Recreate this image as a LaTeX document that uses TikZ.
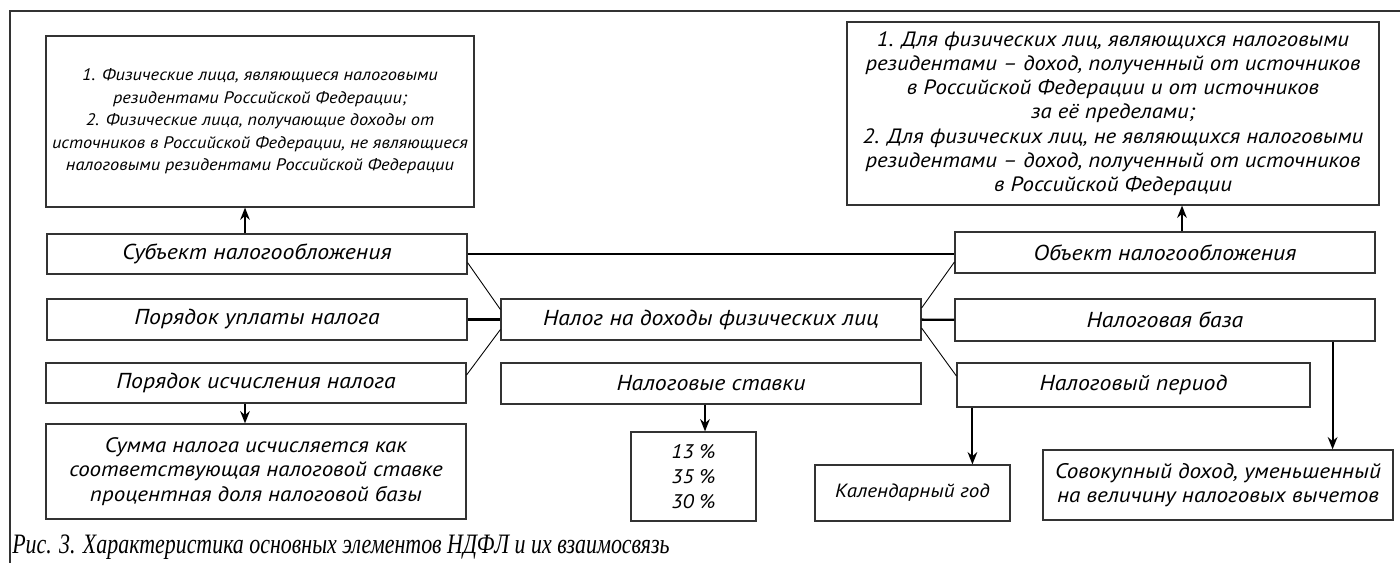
\documentclass[tikz,border=0pt]{standalone}
\usepackage{fontspec}
\newfontfamily\boxfont{PT Sans}[FakeStretch=1.1]
\newfontfamily\capfont{Liberation Serif}[FakeStretch=0.78]
\newcommand\fsz[2]{\fontsize{#1}{#2}\selectfont}
\usetikzlibrary{arrows.meta,calc}
\begin{document}
\begin{tikzpicture}[x=0.02cm,y=-0.02cm,every node/.style={align=center,font=\boxfont\itshape\fsz{12.3}{14}},
blk/.style={draw=black!80,line width=0.7pt,inner sep=0pt},
arr/.style={-{Stealth[length=7pt,width=5.5pt]},line width=1.1pt},
thk/.style={line width=1.4pt},thn/.style={line width=0.5pt}]
\useasboundingbox (0,0) rectangle (1400,563);
\draw[line width=0.8pt,black!80] (10,563)--(10,11)--(1400,11);
\node[blk,minimum width=8.56cm,minimum height=3.42cm,font=\boxfont\itshape\fsz{9.5}{12.8}] (tl) at (260,121.5) {1. Физические лица, являющиеся налоговыми\\резидентами Российской Федерации;\\2. Физические лица, получающие доходы от\\источников в Российской Федерации, не являющиеся\\налоговыми резидентами Российской Федерации};
\node[blk,minimum width=10.64cm,minimum height=3.66cm,font=\boxfont\itshape\fsz{11.8}{13.8}] (tr) at (1113,113.5) {1. Для физических лиц, являющихся налоговыми\\резидентами – доход, полученный от источников\\в Российской Федерации и от источников\\за её пределами;\\2. Для физических лиц, не являющихся налоговыми\\резидентами – доход, полученный от источников\\в Российской Федерации};
\node[blk,minimum width=8.4cm,minimum height=0.8cm] (subj) at (257,254) {Субъект налогообложения};
\node[blk,minimum width=8.4cm,minimum height=0.82cm] (pay) at (257,319.5) {Порядок уплаты налога};
\node[blk,minimum width=8.4cm,minimum height=0.8cm] (calc) at (256,383) {Порядок исчисления налога};
\node[blk,minimum width=8.4cm,minimum height=0.82cm] (ndfl) at (711,319.5) {Налог на доходы физических лиц};
\node[blk,minimum width=8.4cm,minimum height=0.82cm] (rates) at (711,383.5) {Налоговые ставки};
\node[blk,minimum width=8.4cm,minimum height=0.82cm] (obj) at (1165,252.5) {Объект налогообложения};
\node[blk,minimum width=8.4cm,minimum height=0.84cm] (base) at (1165,320) {Налоговая база};
\node[blk,minimum width=7.06cm,minimum height=0.88cm] (period) at (1133.5,385) {Налоговый период};
\node[blk,minimum width=8.4cm,minimum height=1.9cm,font=\boxfont\itshape\fsz{11.9}{13.9}] (sum) at (256,471.5) {Сумма налога исчисляется как\\соответствующая налоговой ставке\\процентная доля налоговой базы};
\node[blk,minimum width=2.5cm,minimum height=1.78cm,font=\boxfont\itshape\fsz{11.2}{14.4}] (pct) at (693.5,476.5) {13 \%\\35 \%\\30 \%};
\node[blk,minimum width=3.9cm,minimum height=1.12cm,font=\boxfont\itshape\fsz{10.9}{13}] (year) at (912.5,493) {Календарный год};
\node[blk,minimum width=7cm,minimum height=1.4cm,font=\boxfont\itshape\fsz{12}{13.6}] (total) at (1218,485) {Совокупный доход, уменьшенный\\на величину налоговых вычетов};
\draw[arr] ([xshift=-0.24cm]subj.north)--([xshift=-0.24cm]subj.north |- tl.south);
\draw[arr] ([xshift=-0.22cm]calc.south)--([xshift=-0.22cm]calc.south |- sum.north);
\draw[arr] ([xshift=-0.12cm]rates.south)--([xshift=-0.12cm]rates.south |- pct.north);
\draw[arr] ([xshift=0.34cm]obj.north)--([xshift=0.34cm]obj.north |- tr.south);
\draw[arr] ([xshift=0.32cm]period.south west)--([xshift=0.32cm]period.south west |- year.north);
\draw[arr] ([xshift=-0.86cm]base.south east)--([xshift=-0.86cm]base.south east |- total.north);
\draw[thk] (subj.east)--(subj.east -| obj.west);\draw[thk] (pay)--(ndfl);\draw[thk] (ndfl)--(base);
\draw[thn] ([yshift=0.24cm]subj.south east)--([yshift=0.2cm]ndfl.west);
\draw[thn] ([yshift=0.16cm]calc.east)--([yshift=-0.2cm]ndfl.west);
\draw[thn] ([yshift=0.23cm]ndfl.east)--([yshift=-0.19cm]obj.west);
\draw[thn] ([yshift=-0.17cm]ndfl.east)--([yshift=0.18cm]period.west);
\node[anchor=base west,font=\capfont\itshape\fsz{16}{18},inner sep=0pt] (cap) at (12,554) {Рис. 3. Характеристика основных элементов НДФЛ и их взаимосвязь};
\end{tikzpicture}
\end{document}
